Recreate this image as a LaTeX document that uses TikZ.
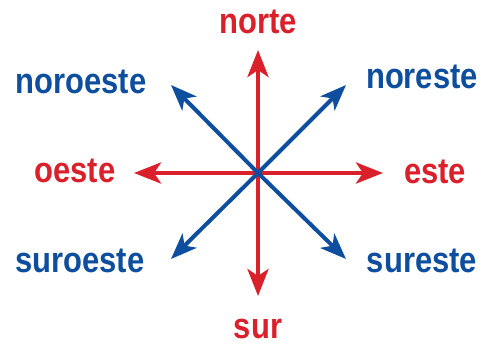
\documentclass[tikz,border=0pt]{standalone}
\usepackage{fontspec}
\setmainfont{Liberation Sans}[FakeStretch=0.86]
\usetikzlibrary{arrows.meta}
\definecolor{rojo}{RGB}{218,32,42}
\definecolor{azul}{RGB}{14,78,158}
\tikzset{
  lbl/.style={anchor=base, inner sep=0pt, font=\fontsize{36}{40}\selectfont\bfseries},
  redlbl/.style={lbl, text=rojo},
  bluelbl/.style={lbl, text=azul},
  redarr/.style={draw=rojo, line width=4.5pt, -{Stealth[length=27pt,width=21pt,inset=7pt]}},
  bluearr/.style={draw=azul, line width=4pt, -{Stealth[length=26pt,width=20pt,inset=7pt]}},
}
\begin{document}
\begin{tikzpicture}[x=1pt,y=-1pt]
\useasboundingbox (0,0) rectangle (486,345);
\coordinate (c) at (258,173);
\coordinate (tn) at (258,50);
\coordinate (ts) at (258,296);
\coordinate (tw) at (134,173);
\coordinate (te) at (383,173);
\coordinate (tnw) at (171,85);
\coordinate (tne) at (346,85);
\coordinate (tsw) at (171,259);
\coordinate (tse) at (346,259);
\draw[redarr] (c) -- (tn);
\draw[redarr] (c) -- (ts);
\draw[redarr] (c) -- (tw);
\draw[redarr] (c) -- (te);
\draw[bluearr] (c) -- (tnw);
\draw[bluearr] (c) -- (tne);
\draw[bluearr] (c) -- (tsw);
\draw[bluearr] (c) -- (tse);
\node[redlbl] (norte) at (258,34) {norte};
\node[redlbl] (sur) at (258,338) {sur};
\node[redlbl] (oeste) at (75,182) {oeste};
\node[redlbl] (este) at (435,183) {este};
\node[bluelbl] (noroeste) at (81,93) {noroeste};
\node[bluelbl] (noreste) at (422,88) {noreste};
\node[bluelbl] (suroeste) at (80,272) {suroeste};
\node[bluelbl] (sureste) at (422,272) {sureste};
\end{tikzpicture}
\end{document}
